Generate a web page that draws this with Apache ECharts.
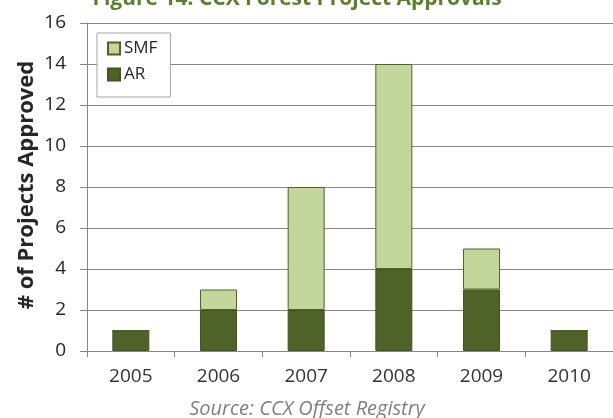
<!DOCTYPE html>
<html><head><meta charset="utf-8">
<script src="https://cdn.jsdelivr.net/npm/echarts@6/dist/echarts.min.js"></script>
<style>html,body{margin:0;padding:0;background:#fff}#c{width:613px;height:418px}</style>
</head><body><div id="c"></div>
<script>
const categories = ['2005','2006','2007','2008','2009','2010'];
const arValues = [1, 2, 2, 4, 3, 1];
const smfValues = [0, 1, 6, 10, 2, 0];
const yTicks = [0, 2, 4, 6, 8, 10, 12, 14, 16];

const chart = echarts.init(document.getElementById('c'), null, {renderer: 'canvas'});
const font = '"Open Sans", "Noto Sans", sans-serif';
chart.setOption({
  animation: false,
  backgroundColor: '#fff',
  grid: {left: 87, right: 0, top: 23, bottom: 67},
  graphic: [
    {type: 'text', x: 297, y: -1, style: {text: 'Figure 14: CCX Forest Project Approvals', font: 'bold 21px "Open Sans", sans-serif', fill: '#5c7f2c', align: 'center', verticalAlign: 'middle'}},
    {type: 'text', x: 27, y: 185, rotation: Math.PI / 2, style: {text: '# of Projects Approved', font: 'bold 22px "Open Sans", sans-serif', fill: '#262626', align: 'center', verticalAlign: 'middle'}},
    {type: 'text', x: 307, y: 409, style: {text: 'Source: CCX Offset Registry', font: 'italic 20px "Open Sans", sans-serif', fill: '#7f7f7f', align: 'center', verticalAlign: 'middle'}}
  ],
  legend: {
    orient: 'vertical', left: 97, top: 33, data: ['SMF', 'AR'],
    backgroundColor: '#fff', borderColor: '#a6a6a6', borderWidth: 1,
    padding: [7, 13, 14, 10], itemGap: 9, itemWidth: 12, itemHeight: 12,
    icon: 'rect',
    textStyle: {fontFamily: font, fontSize: 17, color: '#262626', padding: [0, 0, 0, -1]}
  },
  xAxis: {
    type: 'category', data: categories,
    axisLine: {lineStyle: {color: '#868686'}},
    axisTick: {show: true, length: 6, lineStyle: {color: '#868686'}},
    axisLabel: {fontFamily: font, fontSize: 19, color: '#333', margin: 16}
  },
  yAxis: {
    type: 'value', min: 0, max: 16, interval: 2,
    axisLine: {show: true, lineStyle: {color: '#868686'}},
    axisTick: {show: true, length: 7, lineStyle: {color: '#868686'}},
    axisLabel: {fontFamily: font, fontSize: 19, color: '#262626', margin: 21,
      formatter: v => yTicks.includes(v) ? String(v) : ''},
    splitLine: {lineStyle: {color: '#868686'}}
  },
  series: [
    {name: 'AR', type: 'bar', stack: 's', data: arValues, barWidth: 37,
     itemStyle: {color: '#4f6228', borderColor: '#43541f', borderWidth: 1}},
    {name: 'SMF', type: 'bar', stack: 's', data: smfValues, barWidth: 37,
     itemStyle: {color: '#c3d69b', borderColor: '#4f6228', borderWidth: 1}}
  ]
});
</script></body></html>
